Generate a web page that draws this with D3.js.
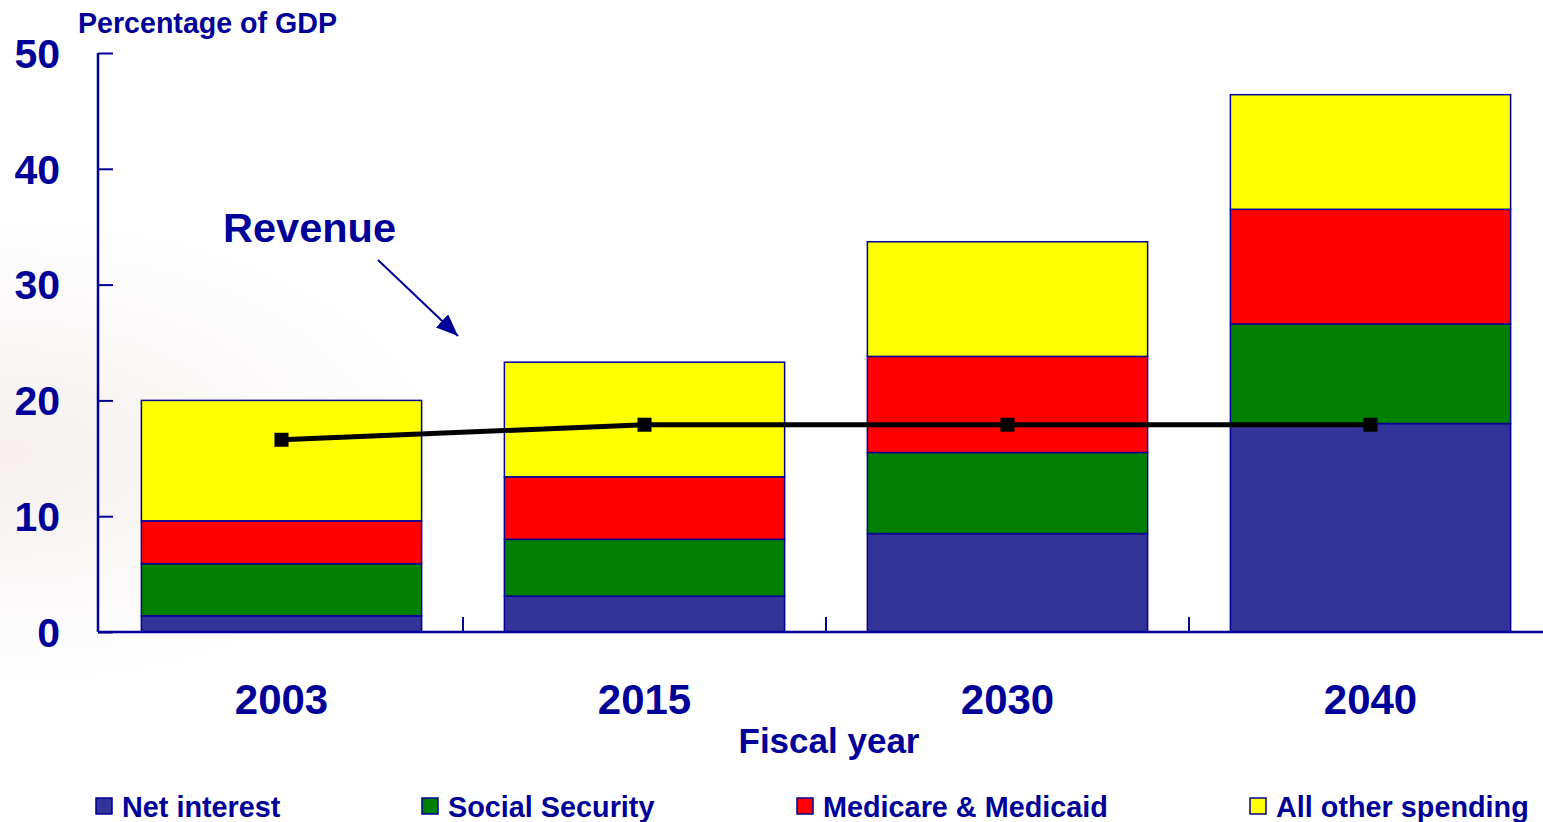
<!DOCTYPE html>
<html>
<head>
<meta charset="utf-8">
<script src="https://cdn.jsdelivr.net/npm/d3@7"></script>
<style>
  html, body { margin: 0; padding: 0; background: #fff; }
  svg { display: block; font-family: "Liberation Sans", Arial, sans-serif; font-weight: bold; }
</style>
</head>
<body>
<svg id="chart" width="1543" height="822"></svg>
<script>
const years = ["2003", "2015", "2030", "2040"];
const seriesNames = ["Net interest", "Social Security", "Medicare & Medicaid", "All other spending"];
const netInterest = [1.4, 3.1, 8.5, 18.0];
const socialSecurity = [4.5, 4.9, 7.0, 8.6];
const medicare = [3.7, 5.4, 8.3, 9.9];
const allOther = [10.4, 9.9, 9.9, 9.9];
const revenue = [16.6, 17.9, 17.9, 17.9];
const yTicks = [0, 10, 20, 30, 40, 50];
const colors = ["#333399", "#008000", "#ff0000", "#ffff00"];
const textColor = "#000099";

const svg = d3.select("#chart");
const W = 1543, H = 822;

// faint background shading on the left
const defs = svg.append("defs");
const grad = defs.append("radialGradient").attr("id", "bg")
  .attr("cx", "0").attr("cy", "0.55").attr("r", "0.3");
grad.append("stop").attr("offset", "0").attr("stop-color", "#f6f0f0");
grad.append("stop").attr("offset", "1").attr("stop-color", "#ffffff");
svg.append("rect").attr("width", W).attr("height", H).attr("fill", "url(#bg)");
svg.append("rect").attr("x", 24).attr("y", 777).attr("width", W - 24).attr("height", H - 777).attr("fill", "#fff");

const x0 = 98, yBottom = 632, yTop = 53;
const x = d3.scaleBand().domain(years).range([100, 1552]).paddingInner(0.228).paddingOuter(0.114);
const xOuter = d3.scaleBand().domain(years).range([100, 1552]).padding(0);
const y = d3.scaleLinear().domain([0, 50]).range([yBottom, yTop]);

const table = years.map((yr, i) => ({
  year: yr,
  "Net interest": netInterest[i],
  "Social Security": socialSecurity[i],
  "Medicare & Medicaid": medicare[i],
  "All other spending": allOther[i]
}));
const stacked = d3.stack().keys(seriesNames)(table);

// bars
stacked.forEach((s, si) => {
  svg.append("g").selectAll("rect").data(s).join("rect")
    .attr("x", d => x(d.data.year))
    .attr("width", x.bandwidth())
    .attr("y", d => y(d[1]))
    .attr("height", d => y(d[0]) - y(d[1]))
    .attr("fill", colors[si])
    .attr("stroke", textColor)
    .attr("stroke-width", 1.5);
});

// y axis
const yAxis = svg.append("g").attr("transform", `translate(${x0},0)`)
  .call(d3.axisRight(y).tickValues(yTicks).tickSize(15).tickFormat(""));
yAxis.select(".domain").remove();
yAxis.selectAll(".tick line").attr("stroke", textColor).attr("stroke-width", 2);
svg.append("line").attr("x1", x0).attr("x2", x0).attr("y1", yTop).attr("y2", yBottom)
  .attr("stroke", textColor).attr("stroke-width", 2.5);
svg.append("g").selectAll("text").data(yTicks).join("text")
  .attr("x", 60).attr("y", d => y(d)).attr("dy", "0.36em")
  .attr("text-anchor", "end").attr("font-size", 41).attr("fill", textColor)
  .text(d => d);

// x axis
svg.append("line").attr("x1", x0).attr("x2", W).attr("y1", yBottom).attr("y2", yBottom)
  .attr("stroke", textColor).attr("stroke-width", 2.5);
svg.append("g").selectAll("line").data(years.slice(1)).join("line")
  .attr("x1", d => xOuter(d)).attr("x2", d => xOuter(d))
  .attr("y1", yBottom).attr("y2", yBottom - 15)
  .attr("stroke", textColor).attr("stroke-width", 2);
svg.append("g").selectAll("text").data(years).join("text")
  .attr("x", d => x(d) + x.bandwidth() / 2).attr("y", 714)
  .attr("text-anchor", "middle").attr("font-size", 42).attr("fill", textColor)
  .text(d => d);

svg.append("text").attr("x", 829).attr("y", 753).attr("text-anchor", "middle")
  .attr("font-size", 35).attr("fill", textColor).text("Fiscal year");
svg.append("text").attr("x", 78).attr("y", 33)
  .attr("font-size", 28.6).attr("fill", textColor).text("Percentage of GDP");

// revenue line
const line = d3.line().x((d, i) => x(years[i]) + x.bandwidth() / 2).y(d => y(d));
svg.append("path").datum(revenue).attr("d", line)
  .attr("fill", "none").attr("stroke", "#000").attr("stroke-width", 5);
svg.append("g").selectAll("rect").data(revenue).join("rect")
  .attr("x", (d, i) => x(years[i]) + x.bandwidth() / 2 - 7)
  .attr("y", d => y(d) - 7)
  .attr("width", 14).attr("height", 14).attr("fill", "#000");

// revenue annotation
svg.append("text").attr("x", 223).attr("y", 242)
  .attr("font-size", 41.5).attr("fill", textColor).text("Revenue");
defs.append("marker").attr("id", "arrow").attr("viewBox", "0 0 10 10")
  .attr("refX", 10).attr("refY", 5).attr("markerWidth", 22).attr("markerHeight", 18)
  .attr("markerUnits", "userSpaceOnUse").attr("orient", "auto")
  .attr("preserveAspectRatio", "none")
  .append("path").attr("d", "M0,0 L10,5 L0,10 Z").attr("fill", textColor);
svg.append("line").attr("x1", 378).attr("y1", 260).attr("x2", 458).attr("y2", 336)
  .attr("stroke", textColor).attr("stroke-width", 2)
  .attr("marker-end", "url(#arrow)");

// legend
const legendX = [96, 422, 797, 1250];
const lg = svg.append("g").selectAll("g").data(seriesNames).join("g")
  .attr("transform", (d, i) => `translate(${legendX[i]},798)`);
lg.append("rect").attr("width", 16).attr("height", 16)
  .attr("fill", (d, i) => colors[i]).attr("stroke", textColor).attr("stroke-width", 1.5);
lg.append("text").attr("x", 26).attr("y", 19).attr("font-size", 28.8).attr("fill", textColor)
  .text(d => d);
</script>
</body>
</html>
